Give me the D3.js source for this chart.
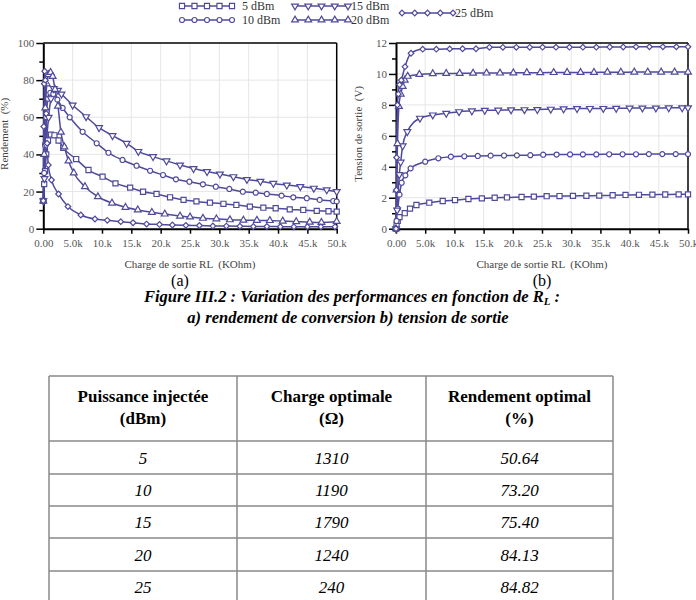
<!DOCTYPE html>
<html><head><meta charset="utf-8">
<script src="https://cdn.jsdelivr.net/npm/d3@7"></script>
<style>
body{margin:0;background:#fff}
svg{display:block}
</style>
</head><body>
<svg id="c" width="696" height="600" font-family="Liberation Serif"></svg>
<script>
// ---------- DATA ----------
const seriesNames = ["5 dBm", "10 dBm", "15 dBm", "20 dBm", "25 dBm"];
const xTicks = [0, 5, 10, 15, 20, 25, 30, 35, 40, 45, 50];
const xTickLabels = ["0.00", "5.0k", "10.k", "15.k", "20.k", "25.k", "30.k", "35.k", "40.k", "45.k", "50.k"];
const effTicks = [0, 20, 40, 60, 80, 100];
const voltTicks = [0, 2, 4, 6, 8, 10, 12];

// (a) Rendement (%) vs RL (kOhm)
const effX5  = [0, 0.15, 0.3, 0.5, 0.8, 1.31, 1.9, 2.6, 3.4, 5.6, 7.7, 10.1, 12.3, 14.8, 17.0, 19.3, 21.6, 23.9, 26.1, 28.4, 30.7, 32.9, 35.2, 37.5, 39.6, 42.0, 44.3, 46.6, 48.6, 50];
const effY5  = [15, 24, 31, 40, 47.5, 50.64, 50.3, 47.5, 43.5, 37.5, 31.6, 28.0, 24.4, 22.1, 19.9, 18.7, 16.9, 15.5, 14.7, 14.0, 13.4, 12.8, 11.9, 11.3, 11.0, 10.4, 10.1, 9.6, 9.4, 9.2];
const effX10 = [0, 0.15, 0.3, 0.5, 0.8, 1.19, 1.7, 2.4, 3.3, 4.5, 6.7, 9.1, 11.1, 13.5, 15.9, 18.2, 20.4, 22.6, 24.9, 27.2, 29.4, 31.7, 34.0, 36.2, 38.1, 40.6, 42.6, 44.9, 47.1, 49.4, 50];
const effY10 = [15, 30, 45, 60, 70, 73.2, 72.5, 69.5, 65, 60, 52.2, 46, 40.9, 37, 33.9, 31.2, 28.9, 26.6, 25.3, 23.9, 22.6, 21.4, 19.9, 19.4, 18.7, 17.8, 16.9, 16.4, 15.5, 14.9, 14.7];
const effX15 = [0, 0.2, 0.5, 0.9, 1.3, 1.79, 2.5, 3.1, 5.0, 7.3, 9.5, 11.8, 14.2, 16.2, 18.7, 21.0, 23.3, 25.6, 27.9, 30.1, 32.4, 34.7, 37.0, 39.2, 41.5, 43.8, 46.1, 48.3, 50];
const effY15 = [15, 27, 45, 60, 70, 75.4, 74.5, 72.5, 66.6, 60.3, 54.4, 50.1, 46, 41.6, 38.8, 36.5, 34.3, 32.4, 30.8, 29.4, 28.0, 26.5, 25.5, 24.4, 23.5, 22.7, 21.8, 20.9, 20.0];
const effX20 = [0, 0.15, 0.35, 0.6, 0.9, 1.24, 1.6, 2.0, 2.5, 3.0, 3.6, 4.3, 5.2, 7.1, 9.3, 11.7, 14.0, 16.1, 18.5, 20.7, 23.3, 25.0, 27.2, 29.5, 31.8, 34.1, 36.4, 38.6, 40.8, 43.1, 45.4, 47.4, 50];
const effY20 = [15, 40, 65, 78, 83, 84.13, 82, 75, 66, 52, 44, 36.5, 30, 22.6, 17.2, 13.8, 11.5, 10.1, 8.8, 7.9, 6.8, 6.3, 5.6, 5.3, 4.8, 4.6, 4.5, 4.4, 4.1, 3.8, 3.5, 3.4, 3.9];
const effX25 = [0, 0.08, 0.16, 0.24, 0.35, 0.5, 0.65, 0.85, 1.4, 2.6, 4.2, 6.4, 8.8, 10.9, 13.2, 15.3, 17.6, 19.8, 22.0, 24.3, 26.6, 28.9, 31.2, 33.5, 35.8, 38.1, 40.4, 42.7, 45.0, 47.3, 49.7];
const effY25 = [15, 55, 78, 84.82, 80, 62, 46, 34.3, 26.2, 18.7, 11.9, 7.4, 5.2, 4.5, 3.8, 3.2, 2.5, 2.3, 2.0, 1.8, 1.7, 1.5, 1.4, 1.3, 1.2, 1.2, 1.1, 1.0, 1.0, 1.0, 1.0];

// (b) Tension de sortie (V) vs RL (kOhm)
const vX5  = [0, 0.1, 0.3, 0.6, 1.5, 2.4, 3.5, 5.7, 8.0, 10.1, 12.4, 14.7, 16.9, 19.0, 21.5, 23.6, 25.8, 28.0, 30.3, 32.6, 34.8, 37.1, 39.3, 41.6, 43.9, 46.1, 48.4, 50];
const vY5  = [0, 0.25, 0.5, 0.75, 1.0, 1.3, 1.53, 1.68, 1.79, 1.85, 1.92, 1.96, 2.0, 2.02, 2.05, 2.07, 2.1, 2.11, 2.12, 2.13, 2.14, 2.16, 2.18, 2.19, 2.2, 2.21, 2.22, 2.22];
const vX10 = [0, 0.1, 0.3, 0.6, 0.97, 1.6, 2.5, 5.0, 7.25, 9.4, 11.7, 14.0, 16.2, 18.5, 20.7, 23.0, 25.2, 27.5, 29.8, 32.0, 34.3, 36.5, 38.8, 41.1, 43.3, 45.6, 47.9, 50];
const vY10 = [0, 0.5, 1.3, 2.2, 2.97, 3.45, 3.9, 4.33, 4.55, 4.65, 4.68, 4.70, 4.72, 4.73, 4.74, 4.75, 4.78, 4.79, 4.80, 4.80, 4.80, 4.81, 4.81, 4.81, 4.82, 4.82, 4.82, 4.82];
const vX15 = [0, 0.2, 0.57, 0.8, 1.14, 1.94, 4.1, 6.3, 8.6, 10.8, 13.0, 15.2, 17.5, 19.7, 22.0, 24.2, 26.5, 28.7, 31.0, 33.2, 35.5, 37.7, 40.0, 42.2, 44.5, 46.7, 49.0, 50];
const vY15 = [0, 1.2, 3.5, 4.3, 5.35, 6.27, 7.14, 7.35, 7.46, 7.56, 7.61, 7.65, 7.66, 7.68, 7.69, 7.70, 7.72, 7.74, 7.76, 7.77, 7.77, 7.78, 7.79, 7.80, 7.80, 7.81, 7.81, 7.81];
const vX20 = [0, 0.1, 0.25, 0.5, 0.8, 1.14, 1.5, 2.0, 4.0, 6.3, 8.6, 10.9, 13.2, 15.5, 17.8, 20.1, 22.4, 24.7, 27.0, 29.3, 31.6, 33.9, 36.2, 38.5, 40.8, 43.1, 45.4, 47.7, 50];
const vY20 = [0, 2.5, 5.5, 7.9, 8.7, 9.2, 9.6, 9.85, 9.97, 10.02, 10.03, 10.04, 10.05, 10.06, 10.06, 10.07, 10.08, 10.08, 10.09, 10.1, 10.1, 10.1, 10.11, 10.11, 10.12, 10.12, 10.12, 10.12, 10.12];
const vX25 = [0, 0.05, 0.1, 0.24, 0.4, 0.6, 0.9, 1.54, 2.57, 4.57, 6.9, 9.2, 11.4, 13.7, 16.0, 18.3, 20.6, 22.9, 25.1, 27.4, 29.7, 32.0, 34.3, 36.6, 38.9, 41.1, 43.4, 45.7, 48.0, 50];
const vY25 = [0, 2.5, 4.6, 8.0, 8.7, 9.3, 9.6, 10.47, 11.34, 11.6, 11.6, 11.62, 11.63, 11.63, 11.72, 11.72, 11.72, 11.72, 11.73, 11.73, 11.73, 11.73, 11.73, 11.74, 11.74, 11.75, 11.75, 11.75, 11.75, 11.75];

// Table
const tableHeader = [["Puissance injectée", "(dBm)"], ["Charge optimale", "(Ω)"], ["Rendement optimal", "(%)"]];
const tablePuissance = ["5", "10", "15", "20", "25"];
const tableCharge = ["1310", "1190", "1790", "1240", "240"];
const tableRendement = ["50.64", "73.20", "75.40", "84.13", "84.82"];

// ---------- DRAWING ----------
const COLOR = "#4f4a9c";
const FONT = "Liberation Serif";
const svg = d3.select("#c");

const symbolDefs = [
  {type: d3.symbolSquare, size: 26, rot: 0},
  {type: d3.symbolCircle, size: 20, rot: 0},
  {type: d3.symbolTriangle, size: 20, rot: 180},
  {type: d3.symbolTriangle, size: 20, rot: 0},
  {type: d3.symbolSquare, size: 16, rot: 45}
];

function drawMarker(g, px, py, i) {
  const s = symbolDefs[i];
  g.append("path")
    .attr("d", d3.symbol().type(s.type).size(s.size)())
    .attr("transform", `translate(${px},${py}) rotate(${s.rot})`)
    .attr("fill", "#fff").attr("stroke", COLOR).attr("stroke-width", 1.2);
}

function drawChart(cfg) {
  const x = d3.scaleLinear().domain([0, 50]).range([cfg.x0, cfg.x1]);
  const y = d3.scaleLinear().domain([0, cfg.ymax]).range([cfg.y1, cfg.y0]);
  const g = svg.append("g");
  const id = "clip" + cfg.name;
  svg.append("clipPath").attr("id", id).append("rect")
    .attr("x", cfg.x0 - 6).attr("y", cfg.y0 - 6).attr("width", cfg.x1 - cfg.x0 + 12).attr("height", cfg.y1 - cfg.y0 + 12);

  g.selectAll(".vg").data(xTicks.slice(1, -1)).join("line")
    .attr("x1", d => x(d)).attr("x2", d => x(d)).attr("y1", cfg.y0).attr("y2", cfg.y1)
    .attr("stroke", "#e6e6e6").attr("stroke-width", 1);
  g.selectAll(".hg").data(cfg.yticks.slice(1, -1)).join("line")
    .attr("y1", d => y(d)).attr("y2", d => y(d)).attr("x1", cfg.x0).attr("x2", cfg.x1)
    .attr("stroke", "#e6e6e6").attr("stroke-width", 1);

  g.append("line").attr("x1", cfg.x0).attr("x2", cfg.x1).attr("y1", cfg.y0).attr("y2", cfg.y0).attr("stroke", "#000").attr("stroke-width", 1.5);
  g.append("line").attr("x1", cfg.x1).attr("x2", cfg.x1).attr("y1", cfg.y0).attr("y2", cfg.y1).attr("stroke", "#000").attr("stroke-width", 1.5);

  const minor = [];
  for (let i = 0; i < cfg.yticks.length - 1; i++) minor.push((cfg.yticks[i] + cfg.yticks[i + 1]) / 2);
  const ym = g.append("g").attr("transform", `translate(${cfg.x0},0)`)
    .call(d3.axisLeft(y).tickValues(minor).tickSize(4).tickFormat(""));
  ym.select(".domain").remove();
  ym.selectAll("line").attr("stroke", "#000").attr("stroke-width", 1.5);

  const ya = g.append("g").attr("transform", `translate(${cfg.x0},0)`)
    .call(d3.axisLeft(y).tickValues(cfg.yticks).tickSize(7).tickSizeOuter(0).tickPadding(2));
  ya.attr("font-family", FONT);
  ya.select(".domain").attr("stroke", "#000").attr("stroke-width", 2);
  ya.selectAll("line").attr("stroke", "#000").attr("stroke-width", 1.5);
  ya.selectAll("text").attr("font-size", 11).attr("fill", "#555");

  const xa = g.append("g").attr("transform", `translate(0,${cfg.y1})`)
    .call(d3.axisBottom(x).tickValues(xTicks).tickFormat((d, i) => xTickLabels[i]).tickSize(5).tickSizeOuter(0).tickPadding(6));
  xa.attr("font-family", FONT);
  xa.select(".domain").attr("stroke", "#000").attr("stroke-width", 2);
  xa.selectAll("line").attr("stroke", "#000").attr("stroke-width", 1.5);
  xa.selectAll("text").attr("font-size", 11).attr("fill", "#555");

  g.append("text").attr("x", (cfg.x0 + cfg.x1) / 2).attr("y", 268).attr("text-anchor", "middle")
    .attr("font-family", FONT).attr("font-size", 11).attr("fill", "#444").attr("xml:space", "preserve")
    .text("Charge de sortie RL  (KOhm)");
  g.append("text").attr("transform", `translate(${cfg.ylx},${(cfg.y0 + cfg.y1) / 2 - 2}) rotate(-90)`)
    .attr("text-anchor", "middle").attr("font-family", FONT).attr("font-size", 11).attr("fill", "#444")
    .attr("xml:space", "preserve").text(cfg.ylabel);
  g.append("text").attr("x", cfg.capx).attr("y", 285.5).attr("text-anchor", "middle")
    .attr("font-family", FONT).attr("font-size", 16).attr("fill", "#000").text(cfg.cap);

  const line = d3.line().x(d => x(d[0])).y(d => y(d[1])).curve(d3.curveMonotoneX);
  const sg = g.append("g").attr("clip-path", `url(#${id})`);
  cfg.series.forEach((s) => {
    const pts = s[0].map((v, k) => [v, s[1][k]]);
    sg.append("path").attr("d", line(pts)).attr("fill", "none").attr("stroke", COLOR).attr("stroke-width", 1.5);
  });
  cfg.series.forEach((s, i) => {
    s[0].forEach((v, k) => drawMarker(sg, x(v), y(s[1][k]), i));
  });
}

drawChart({name: "a", x0: 43.3, x1: 336.7, y0: 43, y1: 228.7, ymax: 100, yticks: effTicks,
  ylabel: "Rendement  (%)", ylx: 8, cap: "(a)", capx: 180,
  series: [[effX5, effY5], [effX10, effY10], [effX15, effY15], [effX20, effY20], [effX25, effY25]]});
drawChart({name: "b", x0: 396, x1: 688, y0: 43, y1: 228.7, ymax: 12, yticks: voltTicks,
  ylabel: "Tension de sortie  (V)", ylx: 362, cap: "(b)", capx: 542,
  series: [[vX5, vY5], [vX10, vY10], [vX15, vY15], [vX20, vY20], [vX25, vY25]]});

// legend
const legendPos = [[182, 232, 6, 242], [182, 232, 20, 242], [295, 348, 6, 351], [295, 348, 20, 351], [402, 453, 13, 455]];
const lg = svg.append("g");
seriesNames.forEach((name, i) => {
  const [xa, xb, ly, tx] = legendPos[i];
  lg.append("line").attr("x1", xa).attr("x2", xb).attr("y1", ly).attr("y2", ly).attr("stroke", COLOR).attr("stroke-width", 1.5);
  d3.range(5).forEach(k => drawMarker(lg, xa + (xb - xa) * k / 4, ly, i));
  lg.append("text").attr("x", tx).attr("y", ly).attr("dy", "0.35em").attr("font-family", FONT)
    .attr("font-size", 12).attr("fill", "#333").text(name);
});

// caption
const cap = svg.append("g").attr("font-family", FONT).attr("font-weight", "bold").attr("font-style", "italic").attr("font-size", 16.5);
const c1 = cap.append("text").attr("x", 352).attr("y", 302).attr("text-anchor", "middle");
c1.append("tspan").text("Figure III.2 : Variation des performances en fonction de R");
c1.append("tspan").attr("font-size", 11).attr("dy", 3).text("L");
c1.append("tspan").attr("dy", -3).text(" :");
cap.append("text").attr("x", 348).attr("y", 323).attr("text-anchor", "middle")
  .text("a) rendement de conversion b) tension de sortie");

// table
const colEdges = [49, 237, 426, 613];
const rowEdges = [376, 441, 474, 506, 538, 571, 603];
const tg = svg.append("g").attr("font-family", FONT);
const colX = d3.scaleOrdinal().domain([0, 1, 2]).range([0, 1, 2].map(i => (colEdges[i] + colEdges[i + 1]) / 2));
rowEdges.forEach(yv => tg.append("line").attr("x1", colEdges[0]).attr("x2", colEdges[3]).attr("y1", yv).attr("y2", yv).attr("stroke", "#888").attr("stroke-width", 1.5));
colEdges.forEach(xv => tg.append("line").attr("x1", xv).attr("x2", xv).attr("y1", rowEdges[0]).attr("y2", rowEdges[rowEdges.length - 1]).attr("stroke", "#888").attr("stroke-width", 1.5));
tableHeader.forEach((h, c) => {
  h.forEach((t, r) => tg.append("text").attr("x", colX(c)).attr("y", 402 + r * 22).attr("text-anchor", "middle")
    .attr("font-weight", "bold").attr("font-size", 17).attr("fill", "#000").text(t));
});
[tablePuissance, tableCharge, tableRendement].forEach((col, c) => {
  col.forEach((t, r) => tg.append("text").attr("x", colX(c)).attr("y", (rowEdges[r + 1] + rowEdges[r + 2]) / 2 + 6)
    .attr("text-anchor", "middle").attr("font-style", "italic").attr("font-size", 17).attr("fill", "#000").text(t));
});
</script>
</body></html>
